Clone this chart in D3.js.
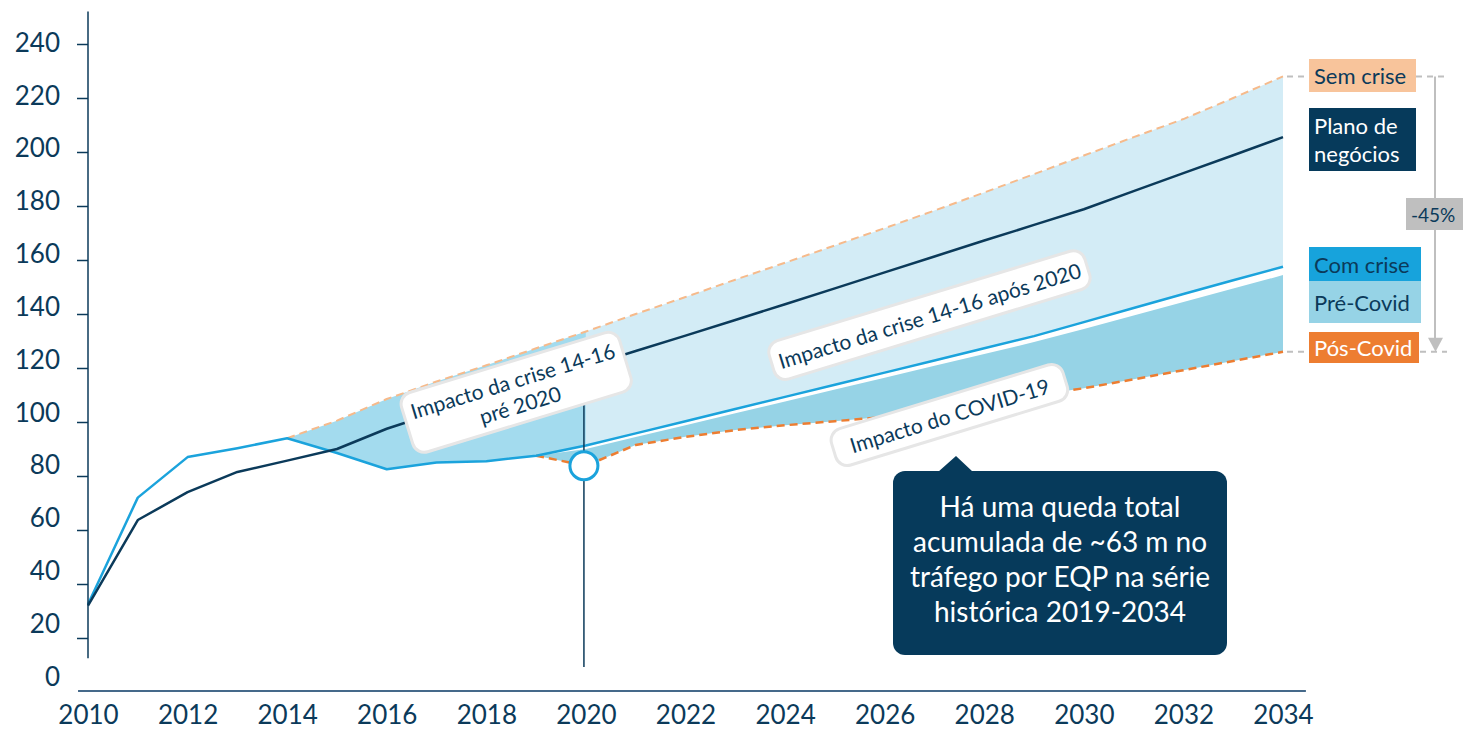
<!DOCTYPE html>
<html>
<head>
<meta charset="utf-8">
<script src="https://cdn.jsdelivr.net/npm/d3@7"></script>
<style>
  body { margin: 0; background: #fff; }
  text { font-family: Lato, "Open Sans", sans-serif; }
</style>
</head>
<body>
<svg id="chart" width="1463" height="731"></svg>
<script>
// ---- data (tráfego por EQP) ----
const years = d3.range(2010, 2035);
const plano    = [32, 63.7, 74, 81.5, 85.7, 90, 97.5, 103.5, 109, 114.6, 120.5, 126.3, 132, 137.8, 143.6, 149.5, 155.4, 161.3, 167.2, 173, 178.8, 185.5, 192.2, 198.8, 205.5];
const comCrise = [32.5, 72, 87, 90.3, 94, 88.5, 82.5, 85, 85.5, 87.5, 91.3, 95.8, 100.3, 104.8, 109.3, 113.8, 118.3, 122.8, 127.3, 131.8, 137, 142.2, 147.4, 152.5, 157.5];
const semCrise = [null, null, null, null, 94, 100.5, 108.5, 115, 121, 127.3, 133.5, 140, 146.3, 152.7, 159, 165.4, 171.8, 178.3, 185, 191.8, 198.7, 205.5, 212.2, 220, 228];
const preCovid = [null, null, null, null, null, null, null, null, null, 87.5, 90, 94.4, 98.8, 103.2, 107.6, 112, 116.4, 120.8, 125.2, 129.6, 134.4, 139.4, 144.4, 149.4, 154.4];
const posCovid = [null, null, null, null, null, null, null, null, null, 87.5, 83.8, 91.5, 94.5, 97, 98.8, 100.3, 101.9, 104.5, 107.2, 109.8, 112.5, 115.8, 119.2, 122.6, 126];
const yTickValues = d3.range(0, 241, 20);
const xTickValues = d3.range(2010, 2035, 2);

const rows = years.map((yr, i) => ({
  yr, plano: plano[i], comCrise: comCrise[i], semCrise: semCrise[i],
  preCovid: preCovid[i], posCovid: posCovid[i]
}));

// ---- palette ----
const navy = "#0b3a5a";
const blue = "#1ba3dc";
const lightFill = "#d3ecf6";
const midFill = "#a3dbee";
const preFill = "#96d3e6";
const orangeLight = "#f6ba8b";
const orange = "#ed7d31";
const gray = "#bfbfbf";

const svg = d3.select("#chart");
const x = d3.scaleLinear().domain([2010, 2034]).range([88, 1283]);
const y = d3.scaleLinear().domain([0, 240]).range([692, 44]);
// tick labels sit on their own, slightly tighter, vertical spacing
const yLab = d3.scaleLinear().domain([0, 240]).range([677, 43]);

// ---- shaded areas ----
const bandArea = (lo, hi) => d3.area().x(d => x(d.yr)).y0(d => y(d[lo])).y1(d => y(d[hi]));

svg.append("path")
  .datum(rows.filter(d => d.yr >= 2014 && d.yr <= 2020))
  .attr("d", bandArea("comCrise", "semCrise"))
  .attr("fill", midFill);

svg.append("path")
  .datum(rows.filter(d => d.yr >= 2020))
  .attr("d", bandArea("comCrise", "semCrise"))
  .attr("fill", lightFill);

svg.append("path")
  .datum(rows.filter(d => d.yr >= 2019))
  .attr("d", bandArea("posCovid", "preCovid"))
  .attr("fill", preFill);

// ---- lines ----
const lineOf = key => d3.line().defined(d => d[key] != null).x(d => x(d.yr)).y(d => y(d[key]));

svg.append("path").datum(rows).attr("d", lineOf("semCrise"))
  .attr("fill", "none").attr("stroke", orangeLight).attr("stroke-width", 2)
  .attr("stroke-dasharray", "8,5");

svg.append("path").datum(rows).attr("d", lineOf("posCovid"))
  .attr("fill", "none").attr("stroke", orange).attr("stroke-width", 2.5)
  .attr("stroke-dasharray", "8,5");

svg.append("path").datum(rows).attr("d", lineOf("comCrise"))
  .attr("fill", "none").attr("stroke", blue).attr("stroke-width", 2.5)
  .attr("stroke-linejoin", "round");

svg.append("path").datum(rows).attr("d", lineOf("plano"))
  .attr("fill", "none").attr("stroke", navy).attr("stroke-width", 2.5)
  .attr("stroke-linejoin", "round");

// ---- axes ----
const yAxisG = svg.append("g").attr("transform", "translate(88,0)")
  .call(d3.axisLeft(y).tickValues(yTickValues.filter(v => v > 0)).tickSize(11).tickFormat(""));
yAxisG.select(".domain").remove();
yAxisG.selectAll(".tick line").attr("stroke", navy).attr("stroke-width", 1.5);
svg.append("line")
  .attr("x1", 88).attr("x2", 88).attr("y1", y(252)).attr("y2", y(12.5))
  .attr("stroke", navy).attr("stroke-width", 1.5);

const yLabG = svg.append("g").attr("transform", "translate(60,0)")
  .call(d3.axisLeft(yLab).tickValues(yTickValues).tickSize(0).tickPadding(0));
yLabG.select(".domain").remove();
yLabG.selectAll("text").attr("fill", navy).style("font-size", "26px");

const xAxisG = svg.append("g").attr("transform", "translate(0,691)")
  .call(d3.axisBottom(x).tickValues(xTickValues).tickFormat(d3.format("d")).tickSize(0).tickPadding(15));
xAxisG.select(".domain").remove();
xAxisG.selectAll("text").attr("fill", navy).style("font-size", "26px");
svg.append("line")
  .attr("x1", x(2009.8)).attr("x2", x(2034.46)).attr("y1", 691).attr("y2", 691)
  .attr("stroke", "#45698a").attr("stroke-width", 2);

// ---- 2020 marker ----
svg.append("line")
  .attr("x1", x(2019.96)).attr("x2", x(2019.96))
  .attr("y1", y(110)).attr("y2", y(9.3))
  .attr("stroke", navy).attr("stroke-width", 1.5);
svg.append("circle")
  .attr("cx", x(2019.96)).attr("cy", y(posCovid[years.indexOf(2020)]))
  .attr("r", 14).attr("fill", "#fff").attr("stroke", blue).attr("stroke-width", 3);

// ---- tilted notes ----
function note(cxYear, cyValue, w, h, lines, fs) {
  const g = svg.append("g")
    .attr("transform", `translate(${x(cxYear)},${y(cyValue)}) rotate(-17)`);
  g.append("rect")
    .attr("x", -w / 2).attr("y", -h / 2).attr("width", w).attr("height", h)
    .attr("rx", 12).attr("fill", "#fff").attr("stroke", "#e6e6e6").attr("stroke-width", 3);
  const lh = fs * 1.2;
  lines.forEach((t, i) => {
    g.append("text")
      .attr("x", 0).attr("y", (i - (lines.length - 1) / 2) * lh)
      .attr("text-anchor", "middle").attr("dominant-baseline", "central")
      .attr("fill", navy).style("font-size", fs + "px").text(t);
  });
}
note(2018.6, 111, 228, 62, ["Impacto da crise 14-16", "pré 2020"], 21);
note(2026.9, 139.6, 330, 40, ["Impacto da crise 14-16 após 2020"], 21);
note(2027.3, 102.6, 242, 38, ["Impacto do COVID-19"], 21);

// ---- callout ----
const callout = svg.append("g");
callout.append("rect")
  .attr("x", 893).attr("y", 471).attr("width", 334).attr("height", 184)
  .attr("rx", 12).attr("fill", "#063a5b");
callout.append("path")
  .attr("d", "M938,472 L956,456 L973,472 Z").attr("fill", "#063a5b");
["Há uma queda total", "acumulada de ~63 m no", "tráfego por EQP na série", "histórica 2019-2034"]
  .forEach((t, i) => {
    callout.append("text")
      .attr("x", 1060).attr("y", 517 + i * 35)
      .attr("text-anchor", "middle").attr("fill", "#fff")
      .style("font-size", "28px").text(t);
  });

// ---- right-hand legend ----
const endSem = y(semCrise[semCrise.length - 1]);
const endPos = y(posCovid[posCovid.length - 1]);
const dashed = (x1, x2, yy) => svg.append("line")
  .attr("x1", x1).attr("x2", x2).attr("y1", yy).attr("y2", yy)
  .attr("stroke", gray).attr("stroke-width", 2).attr("stroke-dasharray", "6,5");
dashed(1287, 1309, endSem);
dashed(1416, 1447, endSem);
dashed(1287, 1309, endPos);
dashed(1420, 1447, endPos);
svg.append("line")
  .attr("x1", 1435).attr("x2", 1435).attr("y1", endSem).attr("y2", endPos - 12)
  .attr("stroke", gray).attr("stroke-width", 2);
svg.append("path")
  .attr("d", `M1428,${endPos - 14} L1443,${endPos - 14} L1435.5,${endPos} Z`)
  .attr("fill", gray);

const legendBoxes = [
  { x: 1309, y: 59,  w: 107, h: 33, fill: "#f8c49b", color: navy,  fs: 22, lines: ["Sem crise"] },
  { x: 1309, y: 108, w: 107, h: 63, fill: "#063a5b", color: "#fff", fs: 22, lines: ["Plano de", "negócios"] },
  { x: 1309, y: 247, w: 112, h: 34, fill: "#17a3dc", color: navy,  fs: 22, lines: ["Com crise"] },
  { x: 1309, y: 281, w: 112, h: 42, fill: "#96d3e6", color: navy,  fs: 22, lines: ["Pré-Covid"] },
  { x: 1309, y: 332, w: 110, h: 31, fill: orange,    color: "#fff", fs: 22, lines: ["Pós-Covid"] },
  { x: 1406, y: 198, w: 57,  h: 32, fill: gray,      color: navy,  fs: 19, lines: ["-45%"] }
];
legendBoxes.forEach(b => {
  svg.append("rect").attr("x", b.x).attr("y", b.y).attr("width", b.w).attr("height", b.h).attr("fill", b.fill);
  const lh = 28;
  b.lines.forEach((t, i) => {
    svg.append("text")
      .attr("x", b.x + 5)
      .attr("y", b.y + b.h / 2 + (i - (b.lines.length - 1) / 2) * lh)
      .attr("dominant-baseline", "central")
      .attr("fill", b.color).style("font-size", b.fs + "px").text(t);
  });
});
</script>
</body>
</html>
